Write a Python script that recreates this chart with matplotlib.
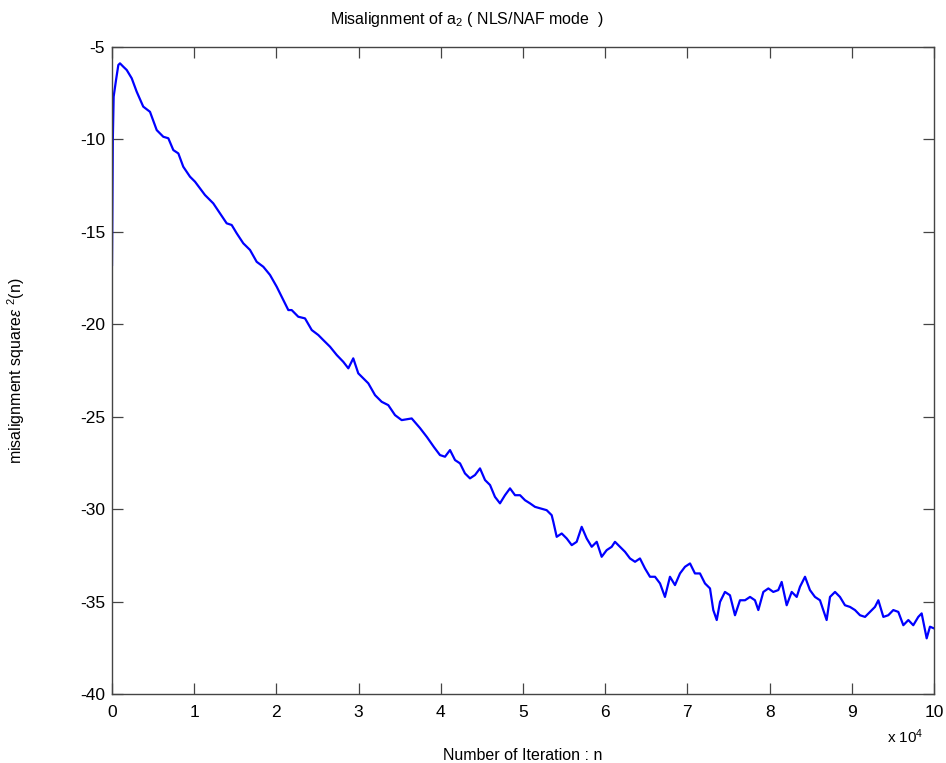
import matplotlib
matplotlib.use("Agg")
import matplotlib.pyplot as plt
import numpy as np

plt.rcParams['font.family'] = ['Liberation Sans', 'DejaVu Sans']
plt.rcParams['mathtext.fontset'] = 'custom'
plt.rcParams['mathtext.rm'] = 'Liberation Sans'
plt.rcParams['mathtext.it'] = 'Liberation Sans:italic'
plt.rcParams['mathtext.cal'] = 'Liberation Sans'

# iteration index, in units of 1e4
iter_e4 = [
    0.000, 0.010, 0.020, 0.049, 0.077, 0.097, 0.137, 0.179, 0.240, 0.300,
    0.380, 0.462, 0.544, 0.624, 0.685, 0.746, 0.807, 0.867, 0.949, 1.010,
    1.071, 1.131, 1.232, 1.314, 1.395, 1.456, 1.517, 1.597, 1.679, 1.760,
    1.841, 1.922, 2.004, 2.084, 2.145, 2.186, 2.266, 2.348, 2.430, 2.510,
    2.570, 2.652, 2.734, 2.814, 2.875, 2.935, 2.996, 3.057, 3.118, 3.200,
    3.281, 3.361, 3.443, 3.524, 3.646, 3.747, 3.832, 3.917, 3.990, 4.051,
    4.112, 4.173, 4.234, 4.294, 4.355, 4.416, 4.477, 4.538, 4.599, 4.659,
    4.720, 4.781, 4.842, 4.903, 4.964, 5.024, 5.085, 5.146, 5.207, 5.288,
    5.349, 5.369, 5.410, 5.471, 5.532, 5.593, 5.653, 5.714, 5.775, 5.836,
    5.897, 5.957, 6.018, 6.079, 6.119, 6.180, 6.241, 6.302, 6.363, 6.423,
    6.484, 6.545, 6.606, 6.667, 6.727, 6.788, 6.849, 6.910, 6.971, 7.032,
    7.092, 7.153, 7.214, 7.275, 7.315, 7.357, 7.397, 7.457, 7.518, 7.579,
    7.640, 7.701, 7.762, 7.822, 7.863, 7.924, 7.985, 8.045, 8.106, 8.147,
    8.208, 8.269, 8.330, 8.370, 8.431, 8.491, 8.552, 8.613, 8.653, 8.694,
    8.735, 8.796, 8.856, 8.917, 8.978, 9.039, 9.100, 9.161, 9.221, 9.282,
    9.323, 9.384, 9.444, 9.505, 9.566, 9.627, 9.688, 9.748, 9.809, 9.850,
    9.911, 9.951, 10.000,
]

# misalignment square (dB)
misalignment = [
    -16.80, -10.00, -7.70, -6.80, -5.99, -5.90, -6.08, -6.26, -6.71, -7.43,
    -8.24, -8.52, -9.51, -9.87, -9.95, -10.59, -10.77, -11.49, -12.03, -12.30,
    -12.66, -13.02, -13.47, -14.01, -14.55, -14.64, -15.09, -15.63, -15.99, -16.63,
    -16.90, -17.34, -17.98, -18.70, -19.24, -19.24, -19.60, -19.69, -20.32, -20.59,
    -20.86, -21.22, -21.67, -22.04, -22.39, -21.85, -22.66, -22.93, -23.20, -23.84,
    -24.20, -24.38, -24.92, -25.19, -25.10, -25.62, -26.11, -26.65, -27.08, -27.17,
    -26.81, -27.35, -27.53, -28.07, -28.34, -28.16, -27.80, -28.43, -28.70, -29.34,
    -29.69, -29.25, -28.88, -29.25, -29.25, -29.52, -29.69, -29.88, -29.96, -30.06,
    -30.33, -30.69, -31.50, -31.32, -31.59, -31.95, -31.77, -30.96, -31.59, -32.04,
    -31.77, -32.58, -32.22, -32.04, -31.77, -32.04, -32.31, -32.67, -32.85, -32.67,
    -33.21, -33.66, -33.66, -34.02, -34.75, -33.66, -34.11, -33.48, -33.12, -32.94,
    -33.48, -33.48, -34.02, -34.29, -35.46, -36.00, -35.02, -34.48, -34.66, -35.74,
    -34.93, -34.93, -34.75, -34.93, -35.46, -34.48, -34.29, -34.48, -34.38, -33.94,
    -35.20, -34.48, -34.75, -34.20, -33.66, -34.38, -34.75, -34.93, -35.46, -36.00,
    -34.75, -34.48, -34.75, -35.20, -35.29, -35.46, -35.74, -35.83, -35.56, -35.29,
    -34.93, -35.83, -35.74, -35.46, -35.56, -36.28, -36.00, -36.28, -35.83, -35.64,
    -36.99, -36.36, -36.45,
]

x_ticks = list(range(0, 11))
y_ticks = [-40, -35, -30, -25, -20, -15, -10, -5]

fig = plt.figure(figsize=(9.46, 7.63), dpi=100)
ax = fig.add_axes([0.1184, 0.0904, 0.8689, 0.8484])

ax.plot(iter_e4, misalignment, color='#0000ff', linewidth=1.6)

ax.set_xlim(0, 10)
ax.set_ylim(-40, -5)
ax.set_xticks(x_ticks)
ax.set_xticklabels([str(v) for v in x_ticks])
ax.set_yticks(y_ticks)
ax.set_yticklabels([str(v) for v in y_ticks])

edge = '#444444'
for sp in ax.spines.values():
    sp.set_color(edge)
    sp.set_linewidth(1.0)
ax.tick_params(direction='in', length=8, width=0.9, color=edge,
               top=True, right=True, labelsize=12.5)
ax.tick_params(axis='x', pad=8)
ax.tick_params(axis='y', pad=5)

fig.text(0.494, 0.974, 'Misalignment of a$_2$ ( NLS/NAF mode  )',
         fontsize=11.5, ha='center', va='center')
ax.set_xlabel('Number of Iteration : n', fontsize=11.5, labelpad=20)
ax.set_ylabel(r'misalignment square$\epsilon$ $^2$(n)', fontsize=11.5, labelpad=38)
fig.text(0.957, 0.034, 'x 10$^4$', fontsize=11, ha='center', va='center')

fig.savefig('out.png', dpi=100)
